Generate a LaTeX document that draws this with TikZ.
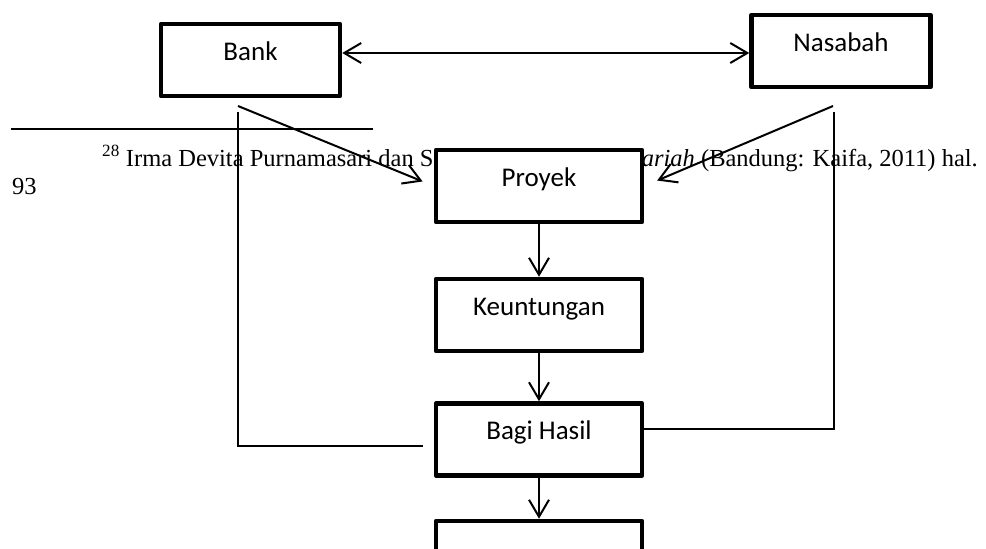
\documentclass[tikz,border=0pt]{standalone}
\usepackage{fontspec}
\setmainfont{Liberation Serif}
\newfontfamily\boxfont{Carlito}
\usetikzlibrary{arrows.meta}
\begin{document}
\begin{tikzpicture}[x=1pt,y=-1pt,
  flowbox/.style={draw, line width=4.5pt, line join=round, fill=white, minimum width=206pt, minimum height=72pt,
    inner sep=0pt, font=\boxfont\fontsize{27}{32}\selectfont, text height=10pt, text depth=10pt},
  topbox/.style={flowbox, minimum width=179pt},
  flow/.style={line width=2pt, -{Straight Barb[length=17pt,width=20pt]}},
  both/.style={line width=2pt, {Straight Barb[length=17pt,width=20pt]}-{Straight Barb[length=17pt,width=20pt]}},
  backline/.style={line width=1.3pt},
  fn/.style={font=\fontsize{24.5}{29}\selectfont, inner sep=0pt}
]
\useasboundingbox (0,0) rectangle (986,549);
\clip (0,0) rectangle (986,549);

% footnote fragments
\node[fn, anchor=base west] (fnl) at (102,166) {\textsuperscript{28} Irma Devita Purnamasari dan S};
\node[fn, anchor=base east] (fnr) at (978,166) {\textit{ariah} (Bandung: Kaifa, 2011) hal.};
\node[fn, anchor=base west] (pg) at (12,194) {93};
\draw[line width=1.3pt] (11,129) -- (373,129);

% boxes
\node[topbox] (bank) at (250.5,60) {Bank};
\node[topbox] (nasabah) at (841,51) {Nasabah};
\node[flowbox] (proyek) at (539,186) {Proyek};
\node[flowbox] (untung) at (539,315) {Keuntungan};
\node[flowbox] (bagi) at (539,439.5) {Bagi Hasil};
\node[flowbox] (akhir) at (539,557) {};

% free ends
\coordinate (bs) at (238,106);
\coordinate (ns) at (833,106);
\coordinate (lt) at (238,112);
\coordinate (lb) at (423,446);
\coordinate (rt) at (834,112);

% connectors
\draw[both] (bank.east |- 0,53) -- (nasabah.west |- 0,53);
\draw[flow, shorten >=12pt] (bs) -- (proyek.west);
\draw[flow, shorten >=14pt] (ns) -- (proyek.east);
\draw[flow] (proyek.south) -- (untung.north);
\draw[flow] (untung.south) -- (bagi.north);
\draw[flow] (bagi.south) -- (akhir.north);
\draw[backline] (lb) -| (lt);
\draw[backline] ([yshift=10.5pt]bagi.east) -| (rt);
\end{tikzpicture}
\end{document}
